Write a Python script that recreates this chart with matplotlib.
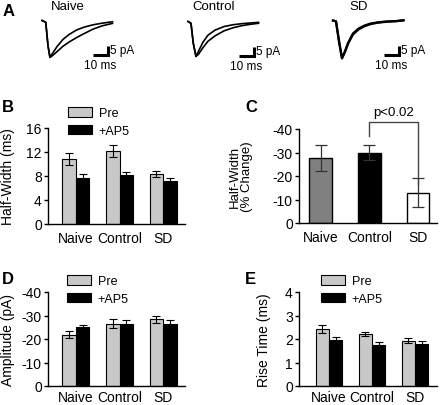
import numpy as np
import matplotlib
matplotlib.use('Agg')
import matplotlib.pyplot as plt

plt.rcParams['font.family'] = ['Liberation Sans', 'DejaVu Sans']
plt.rcParams['font.size'] = 9
plt.rcParams['axes.unicode_minus'] = False

W, H = 440, 406
dpi = 100

# ---- data ----
groups = ['Naive', 'Control', 'SD']

# panel A: example EPSC traces (ms, pA)
t_naive = [0, 2.5, 4, 5.3, 7, 10, 14, 18, 23, 28, 34, 40, 47]
naive_pre = [0, -1, -14, -20.5, -19.5, -17.3, -14.3, -12, -9.5, -7.3, -4.8, -3.0, -1.6]
naive_ap5 = [0, -1, -14, -20.5, -18.3, -14.5, -10.5, -7.8, -5.3, -3.7, -2.4, -1.5, -0.7]

t_control = [0, 2, 3.5, 5.3, 7, 10, 13.3, 18, 24, 30, 36, 42, 47]
control_pre = [0, -1, -12, -19.4, -18.2, -14.5, -11, -8, -5.2, -3.5, -2.3, -1.5, -1.0]
control_ap5 = [0, -1, -12, -19.4, -16.5, -11.5, -7.6, -4.8, -2.8, -1.8, -1.2, -0.8, -0.5]

t_sd = [0, 2, 4, 6, 8, 10, 13.3, 17, 21, 25, 30, 36, 42, 47]
sd_pre = [0, -0.5, -12, -21, -17, -12.5, -7.2, -4.5, -2.8, -1.7, -1.0, -0.5, -0.3, 0.2]
sd_ap5 = [0, -0.5, -11, -21, -17.5, -13, -7.8, -5, -3.2, -2.0, -1.2, -0.7, -0.4, 0.0]

# panel B: half-width (ms)
hw_pre = [10.9, 12.1, 8.3]
hw_pre_err = [1.0, 1.0, 0.5]
hw_ap5 = [7.6, 8.1, 7.1]
hw_ap5_err = [0.7, 0.5, 0.6]

# panel C: half-width % change
hw_change = [-27.5, -30.0, -12.8]
hw_change_err = [5.5, 3.3, 6.2]

# panel D: amplitude (pA)
amp_pre = [-21.8, -26.5, -28.3]
amp_pre_err = [1.5, 2.0, 1.5]
amp_ap5 = [-25.0, -26.2, -26.5]
amp_ap5_err = [1.0, 1.7, 1.5]

# panel E: rise time (ms)
rt_pre = [2.42, 2.22, 1.93]
rt_pre_err = [0.18, 0.08, 0.12]
rt_ap5 = [1.95, 1.73, 1.78]
rt_ap5_err = [0.15, 0.13, 0.13]

PRE = '#c8c8c8'

fig = plt.figure(figsize=(W / dpi, H / dpi), dpi=dpi)


def px_axes(x0, y0, x1, y1):
    """axes from pixel box (top-left origin)"""
    return fig.add_axes([x0 / W, 1 - y1 / H, (x1 - x0) / W, (y1 - y0) / H])


def style(ax, xpad=5):
    for s in ['top', 'right']:
        ax.spines[s].set_visible(False)
    for s in ['left', 'bottom']:
        ax.spines[s].set_linewidth(1.0)
    ax.tick_params(axis='y', direction='out', length=3, width=1, pad=1.5, labelsize=10)
    ax.tick_params(axis='x', length=0, pad=xpad, labelsize=10)


def paired(ax, pre, pre_err, ap5, ap5_err, legend_xy, xpad=5):
    x = np.arange(len(groups))
    w = 0.31
    b1 = ax.bar(x - w / 2, pre, w, color=PRE, edgecolor='black', lw=0.8,
                yerr=pre_err, error_kw=dict(lw=0.8, capsize=3, capthick=0.8))
    b2 = ax.bar(x + w / 2, ap5, w, color='black', edgecolor='black', lw=0.8,
                yerr=ap5_err, error_kw=dict(lw=0.8, capsize=3, capthick=0.8))
    ax.set_xticks(x)
    ax.set_xticklabels(groups)
    ax.legend([b1, b2], ['Pre', '+AP5'], loc='upper left',
              bbox_to_anchor=(legend_xy[0] / W, 1 - legend_xy[1] / H),
              bbox_transform=fig.transFigure, frameon=False, fontsize=9,
              handlelength=1.95, handleheight=0.8, labelspacing=0.45,
              handletextpad=0.5, borderpad=0, borderaxespad=0)
    style(ax, xpad)


# ---- panel A ----
ms_px, pa_px = 1.5, 1.8
traces = [('Naive', t_naive, naive_pre, naive_ap5, 42, 21.5),
          ('Control', t_control, control_pre, control_ap5, 188, 22.5),
          ('SD', t_sd, sd_pre, sd_ap5, 333, 21.5)]
for name, t, pre, ap5, onset, base in traces:
    x0, x1 = onset - 10, onset + 100
    axa = px_axes(x0, 0, x1, 80)
    axa.set_xlim(-10 / ms_px, 100 / ms_px)
    axa.set_ylim(-(80 - base) / pa_px, base / pa_px)
    lw = 1.6 if name == 'SD' else 1.2
    axa.plot(t, pre, color='black', lw=lw)
    axa.plot(t, ap5, color='black', lw=lw)
    # scale bar 10 ms x 5 pA
    xb = 44
    yb = -34.5 / pa_px
    axa.plot([xb - 10, xb, xb], [yb, yb, yb + 5], color='black', lw=2.2,
             solid_capstyle='butt', solid_joinstyle='miter')
    axa.text(xb + 1.3, yb + 2.6, '5 pA', ha='left', va='center', fontsize=8.5)
    axa.text(xb - 5.5, yb - 2.0, '10 ms', ha='center', va='top', fontsize=8.5)
    axa.axis('off')
    fig.text((onset + 26) / W, 1 - 7.5 / H, name, ha='center', va='center', fontsize=9.5)

# ---- panel B ----
axb = px_axes(48, 129, 185, 225)
paired(axb, hw_pre, hw_pre_err, hw_ap5, hw_ap5_err, (68, 108))
axb.set_xlim(-0.64, 2.5)
axb.set_ylim(0, 16)
axb.set_yticks([0, 4, 8, 12, 16])
axb.set_ylabel('Half-Width (ms)', fontsize=10)
axb.yaxis.set_label_coords(-0.24, 0.5)

# ---- panel C ----
axc = px_axes(299, 130, 437, 224)
xc = np.arange(len(groups))
axc.bar(xc, hw_change, 0.47, color=['#808080', 'black', 'white'], edgecolor='black', lw=1.0,
        yerr=hw_change_err, error_kw=dict(lw=0.9, capsize=4, capthick=0.9, ecolor='#333333'))
axc.set_xlim(-0.45, 2.39)
axc.set_ylim(0, -40)
axc.set_yticks([0, -10, -20, -30, -40])
axc.set_xticks(xc)
axc.set_xticklabels(groups)
axc.set_ylabel('Half-Width\n(% Change)', fontsize=9.5, linespacing=1.05)
axc.yaxis.set_label_coords(-0.33, 0.5)
style(axc)
axc.plot([1, 1, 2, 2], [-37.0, -43.0, -43.0, -16.6], color='#444444', lw=1.0, clip_on=False)
axc.text(1.5, -47.2, 'p<0.02', ha='center', va='center', fontsize=9.5)

# ---- panel D ----
axd = px_axes(48, 293, 185, 387)
paired(axd, amp_pre, amp_pre_err, amp_ap5, amp_ap5_err, (67, 276), xpad=3)
axd.set_xlim(-0.64, 2.5)
axd.set_ylim(0, -40)
axd.set_yticks([0, -10, -20, -30, -40])
axd.set_ylabel('Amplitude (pA)', fontsize=10)
axd.yaxis.set_label_coords(-0.24, 0.5)

# ---- panel E ----
axe = px_axes(299, 293, 437, 387)
paired(axe, rt_pre, rt_pre_err, rt_ap5, rt_ap5_err, (321, 276), xpad=3)
axe.set_xlim(-0.70, 2.51)
axe.set_ylim(0, 4)
axe.set_yticks([0, 1, 2, 3, 4])
axe.set_ylabel('Rise Time (ms)', fontsize=10)
axe.yaxis.set_label_coords(-0.20, 0.5)

# panel letters
for lab, x, y in [('A', 3, 11), ('B', 2, 107), ('C', 245, 107), ('D', 2, 280), ('E', 245, 280)]:
    fig.text(x / W, 1 - y / H, lab, ha='left', va='center', fontsize=12, fontweight='bold')

fig.savefig('out.png', dpi=dpi)
